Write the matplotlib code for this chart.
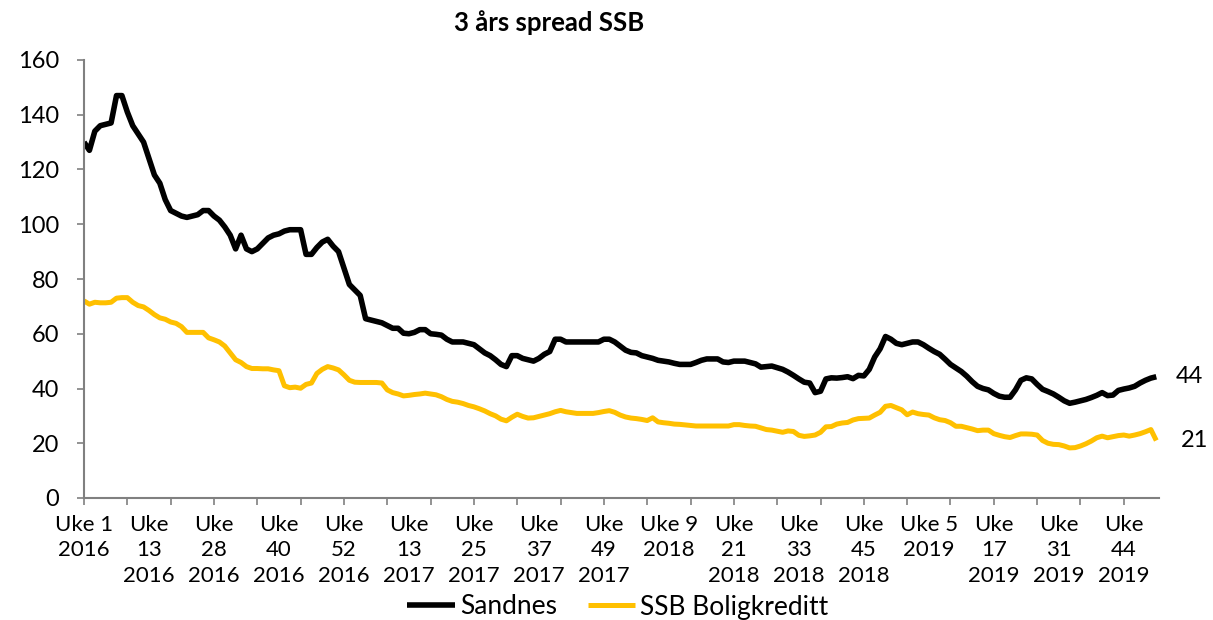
import matplotlib
matplotlib.use("Agg")
import matplotlib.pyplot as plt
import numpy as np

plt.rcParams['font.family'] = ['Lato', 'DejaVu Sans']

title = "3 års spread SSB"
series_names = ["Sandnes", "SSB Boligkreditt"]

sandnes = [
    130, 127, 134, 136, 136.5, 137, 147, 147, 141, 136,
    133, 130, 124, 118, 115, 109, 105, 104, 103, 102.5,
    103, 103.5, 105, 105, 103, 101.5, 99, 96, 91, 96,
    91, 90, 91, 93, 95, 96, 96.5, 97.5, 98, 98,
    98, 89, 89, 91.5, 93.5, 94.5, 92, 90, 84, 78,
    76, 74, 65.5, 65, 64.5, 64, 63, 62, 62, 60.2,
    60, 60.5, 61.5, 61.5, 60, 59.8, 59.5, 58, 57, 57,
    57, 56.5, 56, 54.5, 53, 52, 50.5, 48.8, 48, 52,
    52, 51, 50.5, 50, 51, 52.5, 53.5, 58, 58, 57,
    57, 57, 57, 57, 57, 57, 58, 58, 57, 55.5,
    54, 53.2, 53, 52, 51.5, 51, 50.3, 50, 49.7, 49.2,
    48.8, 48.8, 48.8, 49.5, 50.3, 50.8, 50.8, 50.8, 49.7, 49.5,
    50, 50, 50, 49.5, 49, 47.8, 48, 48.2, 47.6, 47,
    46, 44.8, 43.5, 42.3, 42, 38.5, 39, 43.5, 43.9, 43.8,
    44, 44.3, 43.6, 44.8, 44.6, 47, 51.5, 54.5, 59, 58,
    56.5, 56, 56.5, 57, 57, 56, 54.7, 53.5, 52.5, 50.7,
    48.8, 47.5, 46.2, 44.5, 42.5, 40.8, 40, 39.5, 38.2, 37.2,
    36.8, 36.8, 39.5, 43, 43.9, 43.5, 41.5, 39.7, 38.9, 38,
    36.8, 35.5, 34.6, 35, 35.5, 36, 36.7, 37.5, 38.5, 37.4,
    37.6, 39.3, 39.8, 40.2, 40.8, 42, 43, 43.8, 44.3,
]

ssb = [
    72, 70.8, 71.5, 71.3, 71.3, 71.5, 73, 73.2, 73.2, 71.5,
    70.3, 69.8, 68.5, 67, 65.8, 65.3, 64.3, 63.8, 62.6, 60.5,
    60.5, 60.5, 60.5, 58.5, 57.8, 57, 55.5, 53, 50.5, 49.5,
    48, 47.3, 47.3, 47.2, 47.2, 46.8, 46.5, 41, 40.3, 40.5,
    40.1, 41.5, 42, 45.5, 47, 48, 47.5, 46.8, 45, 43,
    42.3, 42.2, 42.2, 42.2, 42.2, 42, 39.5, 38.5, 38, 37.3,
    37.5, 37.8, 38, 38.3, 38, 37.7, 37, 36, 35.3, 35,
    34.5, 33.8, 33.3, 32.6, 31.8, 30.8, 30, 28.8, 28.2, 29.5,
    30.6, 29.8, 29.2, 29.3, 29.8, 30.3, 30.8, 31.5, 32, 31.5,
    31.2, 30.9, 30.9, 30.9, 30.9, 31.2, 31.6, 31.9, 31.3, 30.3,
    29.6, 29.2, 29, 28.7, 28.3, 29.3, 27.8, 27.5, 27.3, 27,
    26.9, 26.7, 26.5, 26.3, 26.3, 26.3, 26.3, 26.3, 26.3, 26.3,
    26.8, 26.8, 26.5, 26.3, 26.2, 25.6, 25, 24.8, 24.4, 24,
    24.5, 24.3, 22.9, 22.5, 22.7, 23, 24, 26, 26.1, 27,
    27.4, 27.6, 28.5, 29, 29.1, 29.2, 30.3, 31.3, 33.5, 33.8,
    33, 32.2, 30.4, 31.4, 30.8, 30.5, 30.3, 29.3, 28.6, 28.3,
    27.5, 26.2, 26.2, 25.7, 25.2, 24.6, 24.8, 24.8, 23.5, 22.9,
    22.4, 22.1, 22.8, 23.4, 23.4, 23.3, 23, 21, 20, 19.6,
    19.5, 19, 18.3, 18.4, 19, 19.8, 20.8, 22, 22.6, 22,
    22.4, 22.8, 23, 22.6, 23, 23.5, 24.2, 25, 21,
]

tick_labels = [
    "Uke 1\n2016", "Uke\n13\n2016", "Uke\n28\n2016", "Uke\n40\n2016",
    "Uke\n52\n2016", "Uke\n13\n2017", "Uke\n25\n2017", "Uke\n37\n2017",
    "Uke\n49\n2017", "Uke 9\n2018", "Uke\n21\n2018", "Uke\n33\n2018",
    "Uke\n45\n2018", "Uke 5\n2019", "Uke\n17\n2019", "Uke\n31\n2019",
    "Uke\n44\n2019",
]
end_labels = ["44", "21"]

W, H = 1213, 620
fig = plt.figure(figsize=(W / 100, H / 100), dpi=100)
ax = fig.add_axes([84 / W, 1 - 498 / H, (1159 - 84) / W, (498 - 60) / H])

x = np.arange(len(sandnes))
ax.plot(x, sandnes, color="#000000", lw=4.0, label=series_names[0],
        solid_joinstyle="round", solid_capstyle="butt")
ax.plot(x, ssb, color="#FFC000", lw=3.6, label=series_names[1],
        solid_joinstyle="round", solid_capstyle="butt")

ax.set_xlim(0, len(sandnes) - 0.5)
ax.set_ylim(0, 160)
ax.set_yticks(np.arange(0, 161, 20))
ax.tick_params(axis="y", labelsize=17, length=5, width=1.2, color="#808080",
               pad=13, labelcolor="#000000")

# tick marks every 8 categories, labels every 12 categories
ax.xaxis.remove_overlapping_locs = False
ax.set_xticks(np.arange(0, len(sandnes), 8))
ax.set_xticklabels([])
ax.tick_params(axis="x", which="major", length=5, width=1.2, color="#808080")
ax.set_xticks(np.arange(0, len(sandnes), 12)[:len(tick_labels)], minor=True)
ax.set_xticklabels(tick_labels, minor=True, fontsize=16, linespacing=1.35,
                   va="top", ha="center")
ax.tick_params(axis="x", which="minor", length=0, pad=12)

for s in ["top", "right"]:
    ax.spines[s].set_visible(False)
for s in ["left", "bottom"]:
    ax.spines[s].set_color("#808080")
    ax.spines[s].set_linewidth(1.5)

ax.annotate(end_labels[0], xy=(x[-1], sandnes[-1]), xytext=(14, 0),
            textcoords="offset points", fontsize=17, va="center", ha="left",
            annotation_clip=False)
ax.annotate(end_labels[1], xy=(x[-1], ssb[-1]), xytext=(18, 0),
            textcoords="offset points", fontsize=17, va="center", ha="left",
            annotation_clip=False)

fig.text(549 / W, 1 - 23 / H, title, ha="center", va="center",
         fontsize=18.5, fontweight="bold")

fig.legend(loc="center", bbox_to_anchor=(618 / W, 1 - 607 / H), ncol=2,
           frameon=False, fontsize=19, handlelength=1.8, handletextpad=0.2,
           columnspacing=1.15, borderaxespad=0, borderpad=0)

fig.savefig("out.png", dpi=100)
